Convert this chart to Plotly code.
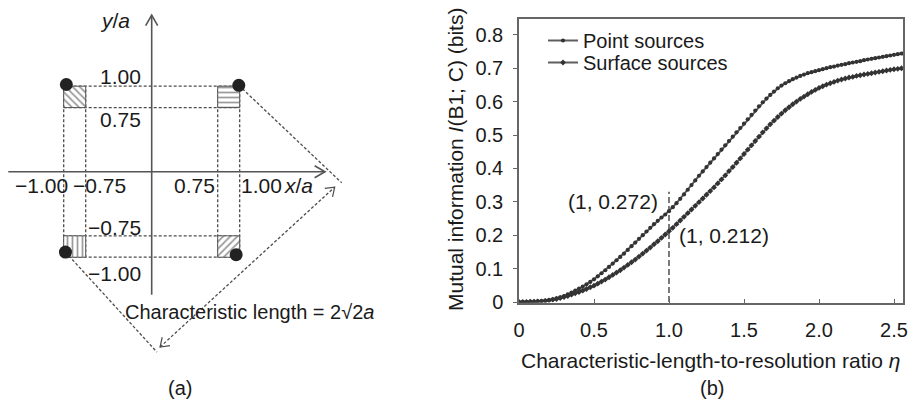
import math
import plotly.graph_objects as go

FONT = "Liberation Sans, Arial, sans-serif"
INK = "#1a1a1a"
CURVE = "#333333"

# ---------------- right panel (b) data ----------------
eta = [0.000, 0.025, 0.050, 0.075, 0.100, 0.125, 0.150, 0.175, 0.200, 0.225,
       0.250, 0.275, 0.300, 0.325, 0.350, 0.375, 0.400, 0.425, 0.450, 0.475,
       0.500, 0.525, 0.550, 0.575, 0.600, 0.625, 0.650, 0.675, 0.700, 0.725,
       0.750, 0.775, 0.800, 0.825, 0.850, 0.875, 0.900, 0.925, 0.950, 0.975,
       1.000, 1.025, 1.050, 1.075, 1.100, 1.125, 1.150, 1.175, 1.200, 1.225,
       1.250, 1.275, 1.300, 1.325, 1.350, 1.375, 1.400, 1.425, 1.450, 1.475,
       1.500, 1.525, 1.550, 1.575, 1.600, 1.625, 1.650, 1.675, 1.700, 1.725,
       1.750, 1.775, 1.800, 1.825, 1.850, 1.875, 1.900, 1.925, 1.950, 1.975,
       2.000, 2.025, 2.050, 2.075, 2.100, 2.125, 2.150, 2.175, 2.200, 2.225,
       2.250, 2.275, 2.300, 2.325, 2.350, 2.375, 2.400, 2.425, 2.450, 2.475,
       2.500, 2.525, 2.550]

point_sources = [0.000, 0.000, 0.000, 0.001, 0.001, 0.002, 0.003, 0.004, 0.006, 0.008,
                 0.011, 0.014, 0.018, 0.023, 0.028, 0.034, 0.040, 0.046, 0.053, 0.060,
                 0.068, 0.077, 0.086, 0.095, 0.105, 0.115, 0.125, 0.135, 0.145, 0.156,
                 0.167, 0.178, 0.189, 0.200, 0.211, 0.222, 0.233, 0.243, 0.253, 0.262,
                 0.272, 0.284, 0.296, 0.309, 0.322, 0.336, 0.350, 0.364, 0.378, 0.391,
                 0.404, 0.417, 0.430, 0.443, 0.456, 0.469, 0.482, 0.495, 0.508, 0.521,
                 0.534, 0.547, 0.560, 0.573, 0.586, 0.598, 0.609, 0.620, 0.630, 0.640,
                 0.648, 0.655, 0.661, 0.667, 0.672, 0.677, 0.681, 0.685, 0.688, 0.691,
                 0.694, 0.697, 0.700, 0.703, 0.705, 0.708, 0.710, 0.712, 0.715, 0.717,
                 0.719, 0.721, 0.724, 0.726, 0.728, 0.730, 0.732, 0.734, 0.736, 0.738,
                 0.740, 0.742, 0.744]

surface_sources = [0.000, 0.000, 0.000, 0.001, 0.001, 0.002, 0.002, 0.003, 0.005, 0.007,
                   0.009, 0.012, 0.015, 0.018, 0.022, 0.026, 0.030, 0.034, 0.039, 0.044,
                   0.049, 0.055, 0.061, 0.067, 0.074, 0.081, 0.088, 0.095, 0.103, 0.111,
                   0.119, 0.127, 0.136, 0.145, 0.154, 0.163, 0.173, 0.182, 0.192, 0.202,
                   0.212, 0.222, 0.233, 0.244, 0.255, 0.266, 0.277, 0.288, 0.299, 0.310,
                   0.321, 0.332, 0.343, 0.355, 0.367, 0.379, 0.392, 0.404, 0.417, 0.430,
                   0.443, 0.456, 0.469, 0.482, 0.495, 0.508, 0.520, 0.532, 0.543, 0.554,
                   0.564, 0.574, 0.583, 0.592, 0.600, 0.608, 0.615, 0.622, 0.629, 0.635,
                   0.641, 0.646, 0.651, 0.655, 0.659, 0.663, 0.666, 0.669, 0.672, 0.674,
                   0.677, 0.679, 0.681, 0.683, 0.685, 0.687, 0.689, 0.691, 0.693, 0.695,
                   0.697, 0.698, 0.700]

guide_x = [1.0, 1.0]
guide_y = [0.0, 0.33]
callout_point = (1, 0.272)
callout_surface = (1, 0.212)

x_ticks = [0, 0.5, 1.0, 1.5, 2.0, 2.5]
x_tick_text = ["0", "0.5", "1.0", "1.5", "2.0", "2.5"]
y_ticks = [0, 0.1, 0.2, 0.3, 0.4, 0.5, 0.6, 0.7, 0.8]
y_tick_text = ["0", "0.1", "0.2", "0.3", "0.4", "0.5", "0.6", "0.7", "0.8"]

# ---------------- left panel (a) data ----------------
grid_levels = [-1.0, -0.75, 0.75, 1.0]
square_x0 = [-1.0, 0.75, -1.0, 0.75]
square_y0 = [0.75, 0.75, -1.0, -1.0]
square_hatch = ["\\", "-", "|", "/"]
square_side = 0.25
dot_x = [-0.97, 0.99, -0.98, 0.96]
dot_y = [1.02, 1.01, -0.94, -0.97]
axis_x_span = [-1.63, 1.97]
axis_y_span = [-1.44, 1.83]
diamond_x0 = [0.99, -0.98]
diamond_y0 = [1.01, -0.94]
diamond_x1 = [2.16, 0.06]
diamond_y1 = [-0.13, -2.11]
span_arrow_x = [0.095, 2.08]
span_arrow_y = [-2.05, -0.18]

# pixel scale of the diagram (px per unit) used for arrowhead geometry
SX, SY = 88.0, 85.5


def chevron(tip_x, tip_y, from_x, from_y, length=11, half_angle=32):
    dx = (tip_x - from_x) * SX
    dy = (tip_y - from_y) * SY
    n = math.hypot(dx, dy)
    bx, by = -dx / n, -dy / n
    xs, ys = [], []
    for s in (1, -1):
        a = math.radians(half_angle) * s
        rx = bx * math.cos(a) - by * math.sin(a)
        ry = bx * math.sin(a) + by * math.cos(a)
        xs.append(tip_x + rx * length / SX)
        ys.append(tip_y + ry * length / SY)
    return [xs[0], tip_x, xs[1]], [ys[0], tip_y, ys[1]]


fig = go.Figure()

# ---------- panel (a) ----------
gx, gy = [], []
for lv in grid_levels:
    gx += [-1.0, 1.0, None]
    gy += [lv, lv, None]
    gx += [lv, lv, None]
    gy += [-1.0, 1.0, None]
fig.add_trace(go.Scatter(x=gx, y=gy, mode="lines", xaxis="x2", yaxis="y2",
                         line=dict(color="#4d4d4d", width=1.3, dash="3px,2px"),
                         showlegend=False, hoverinfo="skip"))

for x0, y0, hatch in zip(square_x0, square_y0, square_hatch):
    fig.add_trace(go.Scatter(
        x=[x0, x0 + square_side, x0 + square_side, x0, x0],
        y=[y0, y0, y0 + square_side, y0 + square_side, y0],
        mode="lines", fill="toself", xaxis="x2", yaxis="y2",
        fillcolor="white",
        fillpattern=dict(shape=hatch, fgcolor="#3a3a3a", bgcolor="white",
                         size=5, solidity=0.35),
        line=dict(color="#555555", width=1),
        showlegend=False, hoverinfo="skip"))

# diamond edges and span arrow (dashed)
dx, dy = [], []
for a, b, c, d in zip(diamond_x0, diamond_y0, diamond_x1, diamond_y1):
    dx += [a, c, None]
    dy += [b, d, None]
dx += [span_arrow_x[0], span_arrow_x[1], None]
dy += [span_arrow_y[0], span_arrow_y[1], None]
fig.add_trace(go.Scatter(x=dx, y=dy, mode="lines", xaxis="x2", yaxis="y2",
                         line=dict(color="#4d4d4d", width=1.3, dash="3px,2px"),
                         showlegend=False, hoverinfo="skip"))
hx, hy = [], []
for tip, frm in ((0, 1), (1, 0)):
    cx, cy = chevron(span_arrow_x[tip], span_arrow_y[tip],
                     span_arrow_x[frm], span_arrow_y[frm], length=10, half_angle=35)
    hx += cx + [None]
    hy += cy + [None]
fig.add_trace(go.Scatter(x=hx, y=hy, mode="lines", xaxis="x2", yaxis="y2",
                         line=dict(color="#4d4d4d", width=1.2),
                         showlegend=False, hoverinfo="skip"))

# coordinate axes with open arrowheads
ax_x = [axis_x_span[0], axis_x_span[1], None, 0, 0, None]
ax_y = [0, 0, None, axis_y_span[0], axis_y_span[1], None]
cx, cy = chevron(axis_x_span[1], 0, axis_x_span[0], 0, length=12, half_angle=30)
ax_x += cx + [None]
ax_y += cy + [None]
cx, cy = chevron(0, axis_y_span[1], 0, axis_y_span[0], length=12, half_angle=30)
ax_x += cx
ax_y += cy
fig.add_trace(go.Scatter(x=ax_x, y=ax_y, mode="lines", xaxis="x2", yaxis="y2",
                         line=dict(color="#555555", width=1.6),
                         showlegend=False, hoverinfo="skip"))

fig.add_trace(go.Scatter(x=dot_x, y=dot_y, mode="markers", xaxis="x2", yaxis="y2",
                         marker=dict(size=13, color="#222222"),
                         showlegend=False, hoverinfo="skip"))

# ---------- panel (b) ----------
fig.add_trace(go.Scatter(x=guide_x, y=guide_y, mode="lines",
                         line=dict(color="#333333", width=1.3, dash="6px,3px"),
                         showlegend=False, hoverinfo="skip"))
fig.add_trace(go.Scatter(x=eta, y=point_sources, mode="lines+markers",
                         name="Point sources", legend="legend",
                         line=dict(color="#5e5e5e", width=2),
                         marker=dict(size=4.2, color=CURVE)))
fig.add_trace(go.Scatter(x=eta, y=surface_sources, mode="lines+markers",
                         name="Surface sources", legend="legend2",
                         line=dict(color="#5e5e5e", width=2),
                         marker=dict(size=4.5, color=CURVE, symbol="diamond")))

W, H = 909, 399
axis_style = dict(showline=True, linecolor="#666666", linewidth=1.5, mirror=True,
                  showgrid=False, zeroline=False, automargin=False,
                  tickfont=dict(family=FONT, size=20, color=INK),
                  tickcolor="#666666", ticklen=4, tickwidth=1.3)

legend_style = dict(xanchor="left", yanchor="middle", bgcolor="rgba(0,0,0,0)",
                    font=dict(family=FONT, size=20, color=INK))

fig.update_layout(
    width=W, height=H,
    margin=dict(l=0, r=0, t=0, b=0, pad=0),
    paper_bgcolor="white", plot_bgcolor="white",
    font=dict(family=FONT, size=20, color=INK),
    xaxis=dict(domain=[519 / W, 903 / W], range=[0, 2.56], anchor="y",
               tickmode="array", tickvals=x_ticks, ticktext=x_tick_text,
               ticks="inside", ticklabelstandoff=9, **axis_style),
    yaxis=dict(domain=[1 - 302.5 / H, 1 - 19 / H], range=[-0.0015, 0.8473], anchor="x",
               tickmode="array", tickvals=y_ticks, ticktext=y_tick_text,
               ticks="outside", ticklabelstandoff=6, **axis_style),
    xaxis2=dict(domain=[0, 400 / W], range=[-1.724, 2.822], anchor="y2",
                visible=False, automargin=False),
    yaxis2=dict(domain=[0, 1], range=[-2.658, 2.008], anchor="x2",
                visible=False, automargin=False),
    legend=dict(x=543 / W, y=1 - 40.5 / H, **legend_style),
    legend2=dict(x=543 / W, y=1 - 62.5 / H, **legend_style),
    showlegend=True,
)

ann = []


def txt(text, x, y, xref, yref, xanchor="center", angle=0, size=21, yanchor="middle"):
    ann.append(dict(text=text, x=x, y=y, xref=xref, yref=yref, xanchor=xanchor,
                    yanchor=yanchor, showarrow=False, textangle=angle,
                    font=dict(family=FONT, size=size, color=INK)))


# panel (a) labels
txt("<i>y</i>/<i>a</i>", -0.417, 1.774, "x2", "y2")
txt("1.00", -0.099, 1.108, "x2", "y2", "right")
txt("0.75", -0.099, 0.616, "x2", "y2", "right")
txt("\u22121.00", -1.258, -0.156, "x2", "y2")
txt("\u22120.75", -0.588, -0.156, "x2", "y2")
txt("0.75", 0.481, -0.156, "x2", "y2")
txt("1.00", 1.253, -0.156, "x2", "y2")
txt("<i>x</i>/<i>a</i>", 1.663, -0.156, "x2", "y2")
txt("\u22120.75", -0.099, -0.647, "x2", "y2", "right")
txt("\u22121.00", -0.099, -1.185, "x2", "y2", "right")
txt("Characteristic length = 2\u221a2<i>a</i>", -0.326, -1.641, "x2", "y2", "left", size=20)
txt("(a)", 0.322, 1 - 388 / H, "x2", "paper", size=20)

# panel (b) labels
txt("(%g, %.3f)" % callout_point, 0.94, 0.300, "x", "y", "right")
txt("(%g, %.3f)" % callout_surface, 1.053, 0.2006, "x", "y", "left")
txt("Characteristic-length-to-resolution ratio <i>\u03b7</i>", 710 / W, 1 - 360 / H,
    "paper", "paper")
txt("(b)", 712 / W, 1 - 388 / H, "paper", "paper", size=20)
txt("Mutual information <i>I</i>(B1; C) (bits)", 455 / W, 1 - 160 / H, "paper", "paper",
    angle=-90, size=21)

fig.update_layout(annotations=ann)
fig.write_html("out.html",
               config={"displayModeBar": False, "responsive": False},
               post_script="document.body.style.margin='0';"
                           "document.body.style.overflow='hidden';")
